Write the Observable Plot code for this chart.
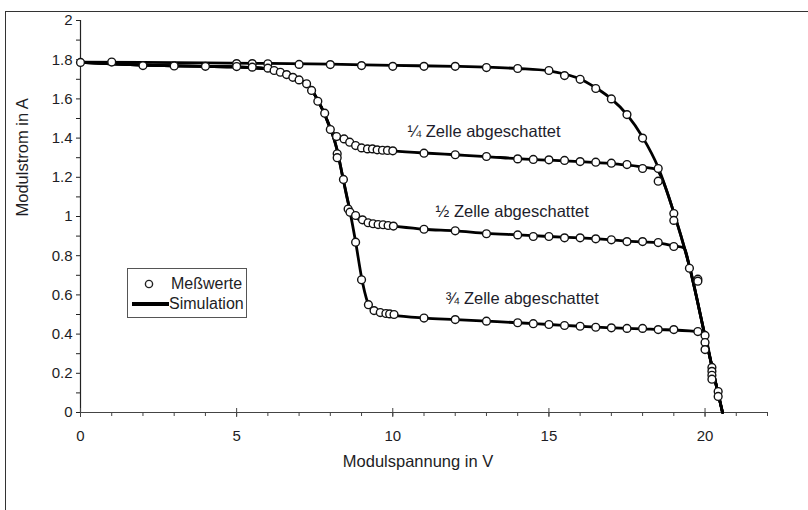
<!DOCTYPE html>
<html>
<head>
<meta charset="utf-8">
<script src="https://cdn.jsdelivr.net/npm/d3@7"></script>
<script src="https://cdn.jsdelivr.net/npm/@observablehq/plot@0.6"></script>
<style>
  body { margin: 0; background: #fff; font-family: "Liberation Sans", Arial, sans-serif; }
  #wrap { position: relative; width: 808px; height: 510px; overflow: hidden; }
  #frame { position: absolute; left: 5px; top: 11px; right: -2px; bottom: -2px; border-top: 1px solid #333; border-left: 1px solid #333; pointer-events: none; }
  #legend { position: absolute; left: 127px; top: 268px; width: 118px; height: 48px; border: 1px solid #555; background: #fff; }
  #legend span { position: absolute; font-size: 16px; line-height: 18px; color: #1d1d24; white-space: nowrap; }
</style>
</head>
<body>
<div id="wrap">
  <div id="chart"></div>
  <div id="frame"></div>
  <div id="legend">
    <svg width="118" height="48" style="position:absolute;left:0;top:0">
      <circle cx="21" cy="15" r="3.6" fill="#fff" stroke="#222" stroke-width="1.4"></circle>
      <line x1="4" x2="41" y1="35" y2="35" stroke="#000" stroke-width="4"></line>
    </svg>
    <span style="left:43px;top:6px">Meßwerte</span>
    <span style="left:41px;top:26px">Simulation</span>
  </div>
</div>
<script>
// ---- Simulation curves (Modulspannung in V, Modulstrom in A) ----
const simV_full = [0, 2, 4, 6, 8, 10, 12, 13, 14, 15, 15.5, 16, 16.5, 17, 17.5, 18, 18.5, 19, 19.5, 20, 20.2, 20.4, 20.56];
const simI_full = [1.787, 1.786, 1.784, 1.781, 1.777, 1.771, 1.766, 1.762, 1.755, 1.743, 1.727, 1.702, 1.657, 1.6, 1.52, 1.405, 1.25, 1.02, 0.745, 0.39, 0.25, 0.11, 0];

const simV_q1 = [0, 1, 2, 3, 4, 5, 6, 6.5, 7, 7.4, 7.6, 7.8, 8.0, 8.2, 8.4, 8.6, 8.8, 9.0, 9.5, 10, 11, 12, 13, 14, 15, 16, 17, 17.5, 18, 18.45, 18.6, 19, 19.5, 20, 20.2, 20.4, 20.56];
const simI_q1 = [1.787, 1.779, 1.772, 1.768, 1.766, 1.763, 1.753, 1.733, 1.7, 1.648, 1.592, 1.528, 1.45, 1.41, 1.39, 1.376, 1.363, 1.353, 1.342, 1.335, 1.324, 1.315, 1.306, 1.295, 1.288, 1.28, 1.27, 1.263, 1.252, 1.24, 1.2, 1.02, 0.745, 0.39, 0.25, 0.11, 0];

const simV_q2 = [0, 1, 2, 3, 4, 5, 6, 6.5, 7, 7.4, 7.6, 7.8, 8.0, 8.2, 8.4, 8.55, 8.7, 8.85, 9.0, 9.2, 9.5, 10, 11, 12, 13, 14, 15, 16, 17, 17.5, 18, 18.5, 19, 19.33, 19.5, 20, 20.2, 20.4, 20.56];
const simI_q2 = [1.787, 1.779, 1.772, 1.768, 1.766, 1.763, 1.753, 1.733, 1.7, 1.648, 1.592, 1.528, 1.45, 1.35, 1.2, 1.085, 1.005, 0.99, 0.98, 0.968, 0.96, 0.951, 0.935, 0.927, 0.914, 0.906, 0.898, 0.891, 0.881, 0.874, 0.87, 0.865, 0.85, 0.84, 0.745, 0.39, 0.25, 0.11, 0];

const simV_q3 = [0, 1, 2, 3, 4, 5, 6, 6.5, 7, 7.4, 7.6, 7.8, 8.0, 8.2, 8.4, 8.6, 8.8, 9.0, 9.1, 9.2, 9.3, 9.5, 10, 11, 12, 13, 14, 15, 16, 17, 17.5, 18, 18.5, 19, 19.5, 19.85, 20.0, 20.2, 20.4, 20.56];
const simI_q3 = [1.787, 1.779, 1.772, 1.768, 1.766, 1.763, 1.753, 1.733, 1.7, 1.648, 1.592, 1.528, 1.45, 1.35, 1.2, 1.05, 0.88, 0.69, 0.615, 0.56, 0.53, 0.512, 0.497, 0.482, 0.474, 0.466, 0.458, 0.449, 0.44, 0.432, 0.429, 0.427, 0.423, 0.421, 0.416, 0.41, 0.39, 0.25, 0.11, 0];

// ---- Measured values (Meßwerte) ----
const measV_full = [0, 1, 5, 5.5, 6, 7, 8, 9, 10, 11, 12, 13, 14, 15, 15.5, 16, 16.5, 17, 17.5, 18, 18.5, 19, 19.5, 19.77];
const measI_full = [1.786, 1.788, 1.78, 1.78, 1.779, 1.776, 1.775, 1.77, 1.766, 1.766, 1.766, 1.76, 1.755, 1.745, 1.719, 1.70, 1.653, 1.60, 1.52, 1.40, 1.18, 1.015, 0.736, 0.68];

const measV_q1 = [2, 3, 4, 5, 5.5, 6, 6.2, 6.4, 6.6, 6.8, 7, 7.24, 7.4, 7.6, 7.82, 8.0, 8.2, 8.44, 8.62, 8.81, 9.0, 9.19, 9.35, 9.5, 9.67, 9.83, 10, 11, 12, 13, 14, 14.5, 15, 15.5, 16, 16.5, 17, 17.5, 18, 18.5, 19];
const measI_q1 = [1.77, 1.768, 1.766, 1.765, 1.762, 1.757, 1.745, 1.736, 1.724, 1.71, 1.697, 1.677, 1.643, 1.588, 1.527, 1.444, 1.408, 1.396, 1.379, 1.362, 1.35, 1.345, 1.345, 1.34, 1.338, 1.337, 1.335, 1.323, 1.315, 1.306, 1.294, 1.291, 1.289, 1.286, 1.28, 1.277, 1.272, 1.265, 1.245, 1.245, 0.98];

const measV_q2 = [8.22, 8.22, 8.42, 8.57, 8.63, 8.81, 9.03, 9.21, 9.37, 9.53, 9.69, 9.85, 10.02, 11, 12, 13, 14, 14.5, 15, 15.5, 16, 16.5, 17, 17.5, 18, 18.5, 19, 19.77];
const measI_q2 = [1.32, 1.30, 1.189, 1.038, 1.022, 1.005, 0.983, 0.968, 0.963, 0.959, 0.958, 0.954, 0.951, 0.935, 0.927, 0.912, 0.906, 0.898, 0.898, 0.891, 0.891, 0.886, 0.881, 0.872, 0.872, 0.867, 0.847, 0.67];

const measV_q3 = [8.81, 9.0, 9.22, 9.4, 9.6, 9.78, 9.9, 10.04, 11, 12, 13, 14, 14.5, 15, 15.5, 16, 16.5, 17, 17.5, 18, 18.5, 19, 19.77, 20, 20, 20, 20.22, 20.22, 20.22, 20.22, 20.42, 20.42];
const measI_q3 = [0.869, 0.677, 0.55, 0.52, 0.51, 0.505, 0.503, 0.50, 0.482, 0.474, 0.466, 0.458, 0.453, 0.449, 0.444, 0.44, 0.435, 0.432, 0.429, 0.429, 0.423, 0.423, 0.413, 0.393, 0.357, 0.321, 0.23, 0.21, 0.19, 0.17, 0.107, 0.082];

// ---- Annotations ----
const labelText = ["¼ Zelle abgeschattet", "½ Zelle abgeschattet", "¾ Zelle abgeschattet"];
const labelV = [10.47, 11.37, 11.69];
const labelI = [1.434, 1.026, 0.582];

// ---- Axes ----
const xTicks = d3.range(0, 23);
const xLabels = [0, 5, 10, 15, 20];
const yTicks = d3.range(0, 21).map(i => i / 10);
const xTitle = "Modulspannung in V";
const yTitle = "Modulstrom in A";

const rows = (V, I) => V.map((v, i) => ({V: v, I: I[i]}));
const simCurves = [rows(simV_full, simI_full), rows(simV_q1, simI_q1), rows(simV_q2, simI_q2), rows(simV_q3, simI_q3)];
const measAll = [
  ...rows(measV_full, measI_full), ...rows(measV_q1, measI_q1),
  ...rows(measV_q2, measI_q2), ...rows(measV_q3, measI_q3)
];
const labels = labelText.map((t, i) => ({t, V: labelV[i], I: labelI[i]}));

const axisColor = "#444";
const fmt = d3.format("~g");

const chart = Plot.plot({
  width: 808,
  height: 510,
  marginLeft: 80,
  marginRight: 41,
  marginTop: 20,
  marginBottom: 98,
  style: {fontFamily: "'Liberation Sans', Arial, sans-serif", fontSize: "15px", color: "#1d1d24", background: "transparent"},
  x: {domain: [0, 22], label: null},
  y: {domain: [0, 2], label: null},
  marks: [
    Plot.ruleY([0], {stroke: axisColor, strokeWidth: 1.2}),
    Plot.ruleX([0], {stroke: "#222", strokeWidth: 1.2}),
    Plot.axisX(xTicks, {tickSize: 4, tickFormat: () => "", stroke: axisColor, label: null}),
    Plot.axisX(xLabels, {tickSize: 9, dy: -4, tickFormat: () => "", stroke: axisColor, label: null}),
    Plot.axisX(xLabels, {tickSize: 0, tickPadding: 18, tickFormat: fmt, fontSize: 15, label: null}),
    Plot.axisY(yTicks, {tickSize: 4, tickPadding: 4, stroke: "#222", fontSize: 15, label: null,
      tickFormat: d => (Math.round(d * 10) % 2 ? "" : fmt(d))}),
    Plot.text([xTitle], {frameAnchor: "bottom", dy: 54, dx: -6, fontSize: 16.5}),
    Plot.text([yTitle], {frameAnchor: "left", dx: -58, rotate: -90, fontSize: 16.5}),
    ...simCurves.map(c => Plot.line(c, {x: "V", y: "I", curve: "monotone-x", stroke: "#000", strokeWidth: 2.8})),
    Plot.dot(measAll, {x: "V", y: "I", r: 3.9, fill: "#fff", stroke: "#111", strokeWidth: 1.4}),
    Plot.text(labels, {x: "V", y: "I", text: "t", textAnchor: "start", fontSize: 16.5, fill: "#1d1d2b"})
  ]
});
document.getElementById("chart").appendChild(chart);
</script>
</body>
</html>
